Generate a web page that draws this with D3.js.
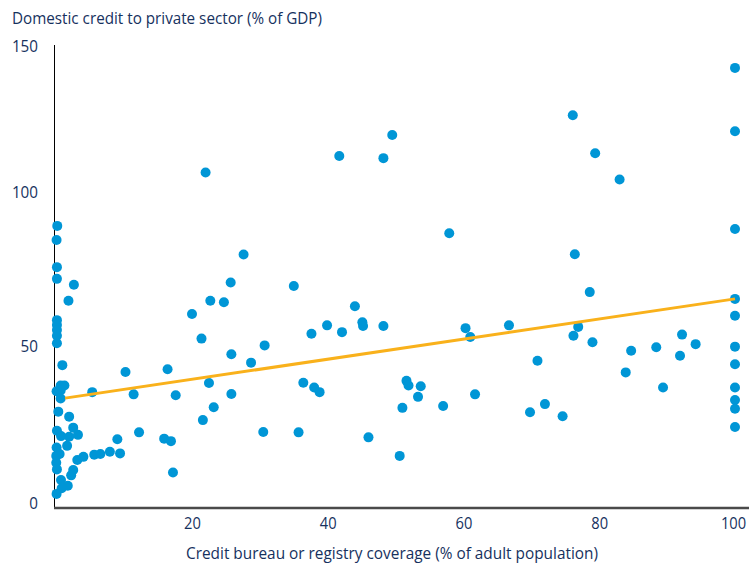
<!DOCTYPE html>
<html>
<head>
<meta charset="utf-8">
<script src="https://cdn.jsdelivr.net/npm/d3@7"></script>
<style>
  html, body { margin: 0; padding: 0; background: #ffffff; }
  svg text { font-family: "Open Sans", "Noto Sans", sans-serif; fill: #16315e; }
</style>
</head>
<body>
<div id="chart"></div>
<script>
// Credit bureau or registry coverage (% of adult population)
const coverage = [
  0.15, 0.05, 0.1, 0.1, 0.1, 0.1, 0.1, 0.1, 0.1, 2.6, 1.8,
  0.9, 0.65, 1.2, 0.05, 0.65, 0.65, 0.3, 1.9, 2.5, 0.1, 0.7, 1.9, 3.2, 0.05, 1.6,
  0.5, 0.0, 0.0, 0.1, 3.1, 4.0, 5.6, 6.5, 7.9, 9.4, 9.0, 2.5, 2.2, 0.7, 1.7, 0.8, 0.05,
  5.3, 10.2, 11.4, 12.2, 15.9, 16.9, 17.2, 16.4, 17.6, 20.0, 21.4, 22.0, 21.6, 22.5,
  22.7, 23.2, 24.7, 25.7, 25.8, 25.8, 27.6, 28.7, 30.5, 30.7, 35.0, 35.7, 36.4, 37.6,
  38.0, 38.8, 39.9, 41.7, 42.1, 44.0, 45.1, 45.2, 46.0, 48.2, 48.2, 49.5, 50.6, 51.0,
  51.6, 51.9, 53.3, 53.7, 57.0, 57.9, 60.3, 61.0, 61.7, 66.7, 69.8, 70.9, 72.0, 74.6,
  76.1, 76.2, 76.4, 76.9, 78.6, 79.0, 79.4, 83.0, 83.9, 84.7, 88.4, 89.4, 91.9, 92.2, 94.2,
  100, 100, 100, 100, 100, 100, 100, 100, 100, 100, 100
];
// Domestic credit to private sector (% of GDP)
const credit = [
  89.0, 84.4, 75.6, 71.8, 58.4, 56.8, 55.2, 53.3, 50.9, 69.9, 64.7,
  43.9, 37.4, 37.4, 35.6, 35.8, 33.3, 29.1, 27.5, 24.0, 23.0, 21.3, 21.1, 21.7, 17.7, 18.2,
  15.6, 15.0, 12.8, 10.7, 13.7, 14.7, 15.4, 15.6, 16.3, 15.8, 20.3, 10.5, 8.8, 7.3, 5.5, 4.7, 2.9,
  35.3, 41.7, 34.6, 22.5, 20.5, 19.7, 9.7, 42.6, 34.3, 60.4, 52.4, 106.7, 26.4, 38.2,
  64.7, 30.5, 64.2, 70.6, 47.4, 34.7, 79.7, 44.7, 22.6, 50.2, 69.5, 22.5, 38.3, 54.0,
  36.8, 35.3, 56.7, 112.3, 54.5, 62.9, 57.7, 56.5, 20.9, 111.6, 56.5, 119.5, 15.0, 30.3,
  38.9, 37.4, 33.8, 37.2, 30.9, 86.6, 55.8, 52.9, 34.6, 56.7, 28.9, 45.3, 31.5, 27.6,
  126.3, 53.3, 79.8, 56.2, 67.5, 51.2, 113.3, 104.3, 41.6, 48.5, 49.6, 36.8, 46.9, 53.7, 50.6,
  142.5, 120.8, 88.0, 65.3, 59.8, 49.8, 44.2, 36.8, 32.8, 30.0, 24.2
];
// Fitted trend line (start and end)
const trendX = [1.3, 100];
const trendY = [33.4, 65.3];

const xTicks = [20, 40, 60, 80, 100];
const yTicks = [0, 50, 100, 150];
const xTitle = "Credit bureau or registry coverage (% of adult population)";
const yTitle = "Domestic credit to private sector (% of GDP)";

const W = 749, H = 564;
const svg = d3.select("#chart").append("svg").attr("width", W).attr("height", H);

const x = d3.scaleLinear().domain([0, 100]).range([56.25, 735]);
const y = d3.scaleLinear().domain([0, 50, 100, 150]).range([503, 346, 192, 46]);

const axisY = 508;

// y axis line
svg.append("line")
  .attr("x1", 54.5).attr("x2", 54.5)
  .attr("y1", 45).attr("y2", axisY)
  .attr("stroke", "#000").attr("stroke-width", 1);

// y axis labels
const yAxis = d3.axisLeft(y).tickValues(yTicks).tickSize(0).tickPadding(0).tickFormat(d3.format("d"));
const gy = svg.append("g").attr("transform", "translate(38,0)").call(yAxis);
gy.select(".domain").remove();
gy.selectAll("text").attr("font-size", 17).attr("font-family", null).attr("dy", "0.35em")
  .attr("textLength", d => String(d).length * 8.7).attr("lengthAdjust", "spacingAndGlyphs");

// points
svg.append("g").selectAll("circle")
  .data(coverage.map((c, i) => [c, credit[i]]))
  .join("circle")
  .attr("cx", d => x(d[0]))
  .attr("cy", d => y(d[1]))
  .attr("r", 5)
  .attr("fill", "#0096d6");

// trend line
svg.append("path")
  .datum(trendX.map((v, i) => [v, trendY[i]]))
  .attr("d", d3.line().x(d => x(d[0])).y(d => y(d[1])))
  .attr("stroke", "#f9b11b").attr("stroke-width", 3).attr("fill", "none");

// x axis
const xAxis = d3.axisBottom(x).tickValues(xTicks).tickSize(0).tickPadding(9);
const gx = svg.append("g").attr("transform", `translate(0,${axisY})`).call(xAxis);
gx.select(".domain").remove();
gx.selectAll("text").attr("font-size", 17).attr("font-family", null)
  .attr("dx", d => d === 100 ? -2 : 0)
  .attr("textLength", d => String(d).length * 8.4).attr("lengthAdjust", "spacingAndGlyphs");
svg.append("line")
  .attr("x1", 54).attr("x2", W)
  .attr("y1", axisY).attr("y2", axisY)
  .attr("stroke", "#4a4a4a").attr("stroke-width", 2.5);

// titles
svg.append("text").attr("x", 12).attr("y", 24).attr("font-size", 17)
  .attr("textLength", 310).attr("lengthAdjust", "spacingAndGlyphs").text(yTitle);
svg.append("text").attr("x", 392).attr("y", 559).attr("text-anchor", "middle").attr("font-size", 17)
  .attr("textLength", 412).attr("lengthAdjust", "spacingAndGlyphs").text(xTitle);
</script>
</body>
</html>
